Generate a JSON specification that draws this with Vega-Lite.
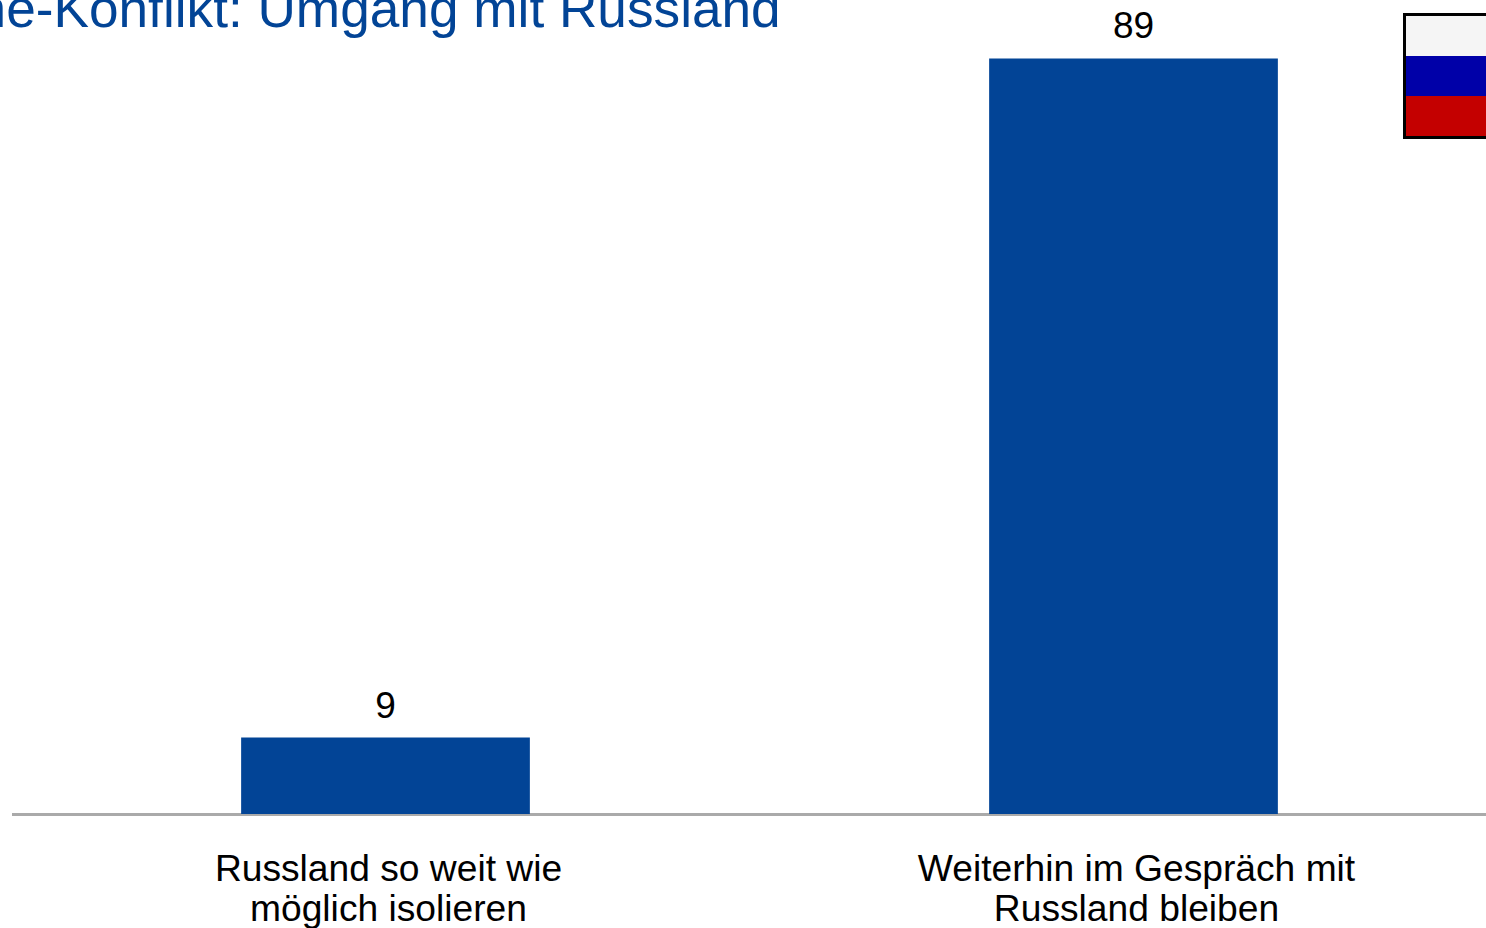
{"$schema":"https://vega.github.io/schema/vega-lite/v6.json","width":1496,"height":814,"autosize":{"type":"none"},"padding":{"left":11.5,"top":0,"right":0,"bottom":114},"background":"white","view":{"stroke":null},"config":{"font":"Liberation Sans"},"datasets":{"bars":[{"category":"Russland so weit wie|möglich isolieren","value":9},{"category":"Weiterhin im Gespräch mit|Russland bleiben","value":89}],"flag":[{"stripe":"Weiß"},{"stripe":"Blau"},{"stripe":"Rot"}]},"layer":[{"data":{"name":"bars"},"mark":{"type":"bar","color":"#024496"},"encoding":{"x":{"field":"category","type":"nominal","sort":null,"scale":{"paddingInner":0.614,"paddingOuter":0.307},"axis":{"title":null,"labelAngle":0,"labelFontSize":37.2,"labelColor":"#000000","labelLineHeight":40,"labelExpr":"split(datum.label,'|')","labelOffset":3,"labelPadding":37,"ticks":false,"domainColor":"#aaaaaa","domainWidth":3,"labelLimit":600,"grid":false}},"y":{"field":"value","type":"quantitative","scale":{"domain":[0,95.88],"nice":false},"axis":null}}},{"data":{"name":"bars"},"mark":{"type":"text","fontSize":37,"color":"#000000","baseline":"bottom","dy":-12},"encoding":{"x":{"field":"category","type":"nominal","sort":null,"scale":{"paddingInner":0.614,"paddingOuter":0.307},"axis":null},"y":{"field":"value","type":"quantitative","scale":{"domain":[0,95.88],"nice":false},"axis":null},"text":{"field":"value","type":"quantitative"}}},{"data":{"values":[{"heading":"Ukraine-Konflikt: Umgang mit Russland"}]},"mark":{"type":"text","fontSize":53.2,"color":"#024496","align":"left","baseline":"alphabetic"},"encoding":{"x":{"datum":0,"type":"quantitative","scale":{"domain":[0,1],"range":[-159,1000]},"axis":null},"y":{"datum":0,"type":"quantitative","scale":{"domain":[0,1],"range":[27,100]},"axis":null},"text":{"field":"heading","type":"nominal"}}},{"data":{"name":"flag"},"mark":{"type":"rect"},"encoding":{"x":{"datum":0,"type":"quantitative","scale":{"domain":[0,1],"range":[1393,1600]},"axis":null},"x2":{"datum":1},"y":{"field":"stripe","type":"nominal","sort":null,"scale":{"range":[16,136],"paddingInner":0,"paddingOuter":0},"axis":null},"color":{"field":"stripe","type":"nominal","sort":null,"scale":{"domain":["Weiß","Blau","Rot"],"range":["#f5f5f5","#0000a8","#c40000"]},"legend":null}}},{"data":{"values":[{"stripe":"Rahmen"}]},"mark":{"type":"rect","fill":null,"stroke":"#000000","strokeWidth":3},"encoding":{"x":{"datum":0,"type":"quantitative","scale":{"domain":[0,1],"range":[1393,1600]},"axis":null},"x2":{"datum":1},"y":{"datum":0,"type":"quantitative","scale":{"domain":[0,1],"range":[14.5,137.5]},"axis":null},"y2":{"datum":1}}}],"resolve":{"scale":{"x":"independent","y":"independent","color":"independent"}}}
